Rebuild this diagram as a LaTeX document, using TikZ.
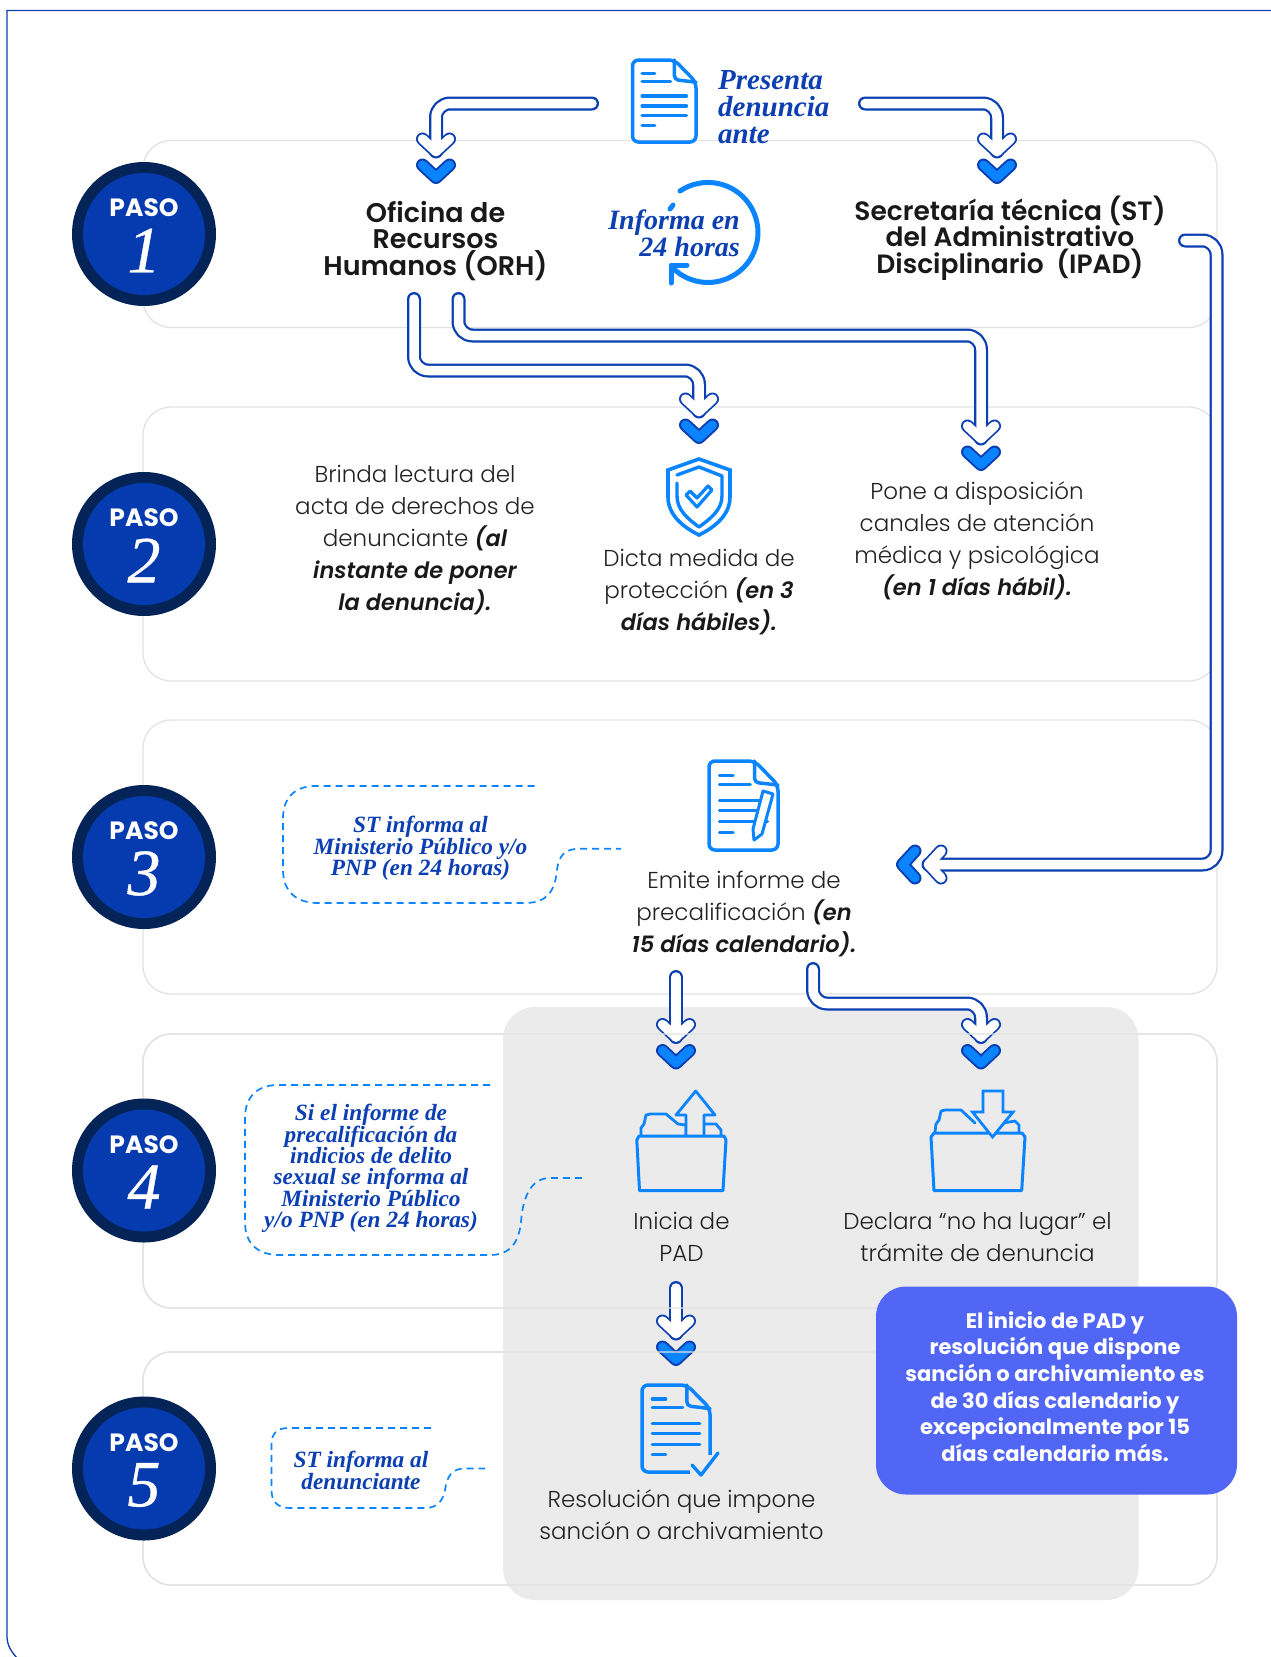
\documentclass[tikz,border=0pt]{standalone}
\usepackage{fontspec}
\setmainfont{Poppins}
\newfontfamily\serifbi{Liberation Serif}
\newfontfamily\numf[ItalicFeatures={FakeBold=0.6}]{Liberation Serif}
\newfontfamily\lightf{Poppins Light}
\newfontfamily\semif{Poppins SemiBold}
\newfontfamily\medf[ItalicFont={Poppins SemiBold Italic}]{Poppins SemiBold}
\usetikzlibrary{calc}
\definecolor{fblue}{HTML}{0B3FB2}
\definecolor{cyanb}{HTML}{0A84FF}
\definecolor{circout}{HTML}{042357}
\definecolor{circin}{HTML}{063BB0}
\definecolor{graybox}{HTML}{EBEBEB}
\definecolor{notebox}{HTML}{5266F5}
\definecolor{panelline}{HTML}{E2E2E2}
\definecolor{bodytxt}{HTML}{222222}
\newcommand{\emx}[1]{{\medf\itshape\fontsize{22.5}{32}\selectfont\color{black!90}#1}}
\tikzset{
 panel/.style={draw=panelline,line width=1.3pt,rounded corners=28pt},
 flowout/.style={draw=fblue,line width=14pt,line cap=round,line join=round,rounded corners=14pt},
 flowin/.style={draw=white,line width=9.5pt,line cap=round,line join=round,rounded corners=14pt},
 chevout/.style={draw=fblue,line width=13pt,line cap=round,line join=round},
 chevin/.style={draw=cyanb,line width=9pt,line cap=round,line join=round},
 heading/.style={font=\semif\fontsize{27}{26.6}\selectfont,text=black!90,align=center,inner sep=0pt},
 bodyt/.style={font=\lightf\fontsize{23}{32}\selectfont,text=bodytxt,align=center,inner sep=0pt},
 calltxt/.style={font=\serifbi\bfseries\itshape\fontsize{23.3}{21.4}\selectfont,text=fblue,align=center,inner sep=0pt},
 bigital/.style={font=\serifbi\bfseries\itshape\fontsize{29}{26.7}\selectfont,text=fblue,inner sep=0pt},
 dashcall/.style={draw=cyanb,line width=1.7pt,dash pattern=on 7pt off 5pt},
 icon/.style={draw=cyanb,line width=3.5pt,line cap=round,line join=round},
 pasot/.style={font=\bfseries\fontsize{25}{25}\selectfont,text=white,inner sep=0pt},
 numt/.style={font=\numf\itshape\fontsize{66}{66}\selectfont,text=white,inner sep=0pt},
}
\newcommand{\chevline}[4]{\begin{scope}[shift={(#1)},rotate=#2]\draw[#3](-13.5,{#4-12.5})--(0,{#4})--(13.5,{#4-12.5});\end{scope}}
\newcommand{\flow}[3]{%
 \draw[flowout] #1;\chevline{#2}{#3}{chevout}{0}%
 \draw[flowin] #1;\chevline{#2}{#3}{flowin,rounded corners=0pt}{0}%
 \chevline{#2}{#3}{chevout}{26}\chevline{#2}{#3}{chevin}{26}}
\newcommand{\paso}[3]{%
 \node[circle,fill=circout,minimum size=144pt,inner sep=0pt] (c#1) at (144,#2) {};
 \node[circle,fill=circin,minimum size=122pt,inner sep=0pt] (ci#1) at (144,#2) {};
 \node[pasot] (pt#1) at (144,#2-26) {PASO};
 \node[numt] (pn#1) at (144,#2+16.5) {#3};}
\newcommand{\docicon}[4]{\begin{scope}[shift={(#1,#2)},x=#3pt/100,y=-#4pt/100]
 \draw[icon,rounded corners=6pt,fill=none] (66,0)--(0,0)--(0,100)--(100,100)--(100,27)--cycle;
 \draw[icon,rounded corners=4pt] (66,0)--(66,24)--(100,27);
 \foreach \a/\b/\c in {15/35/16,15/60/26,15/85/44,15/85/56,15/85/68,15/35/80}{\draw[icon,line width=3.2pt] (\a,\c)--(\b,\c);}
\end{scope}}
\begin{document}
\begin{tikzpicture}[x=1pt,y=-1pt]
\useasboundingbox (0,0) rectangle (1271,1657);
\fill[white] (0,0) rectangle (1271,1657);
% outer frame
\draw[fblue,line width=1.3pt] (1280,10.5)--(7,10.5)--(7,1636) .. controls (7,1645) and (11,1652) .. (19,1660);
% panels 1-3
\draw[panel] (143,140.5) rectangle (1217,327.5);
\draw[panel] (143,407) rectangle (1217,681);
\draw[panel] (143,720) rectangle (1217,994);
% panels 4,5 fill
\draw[panel] (143,1034) rectangle (1217,1308);
\draw[panel] (143,1352) rectangle (1217,1585);
% gray box
\fill[graybox,rounded corners=32pt] (503,1007) rectangle (1138.5,1600);
% coordinates for connector ends
\coordinate (srcL) at (592,103.5);
\coordinate (tipORH) at (436,151.5);
\coordinate (srcR) at (865,103.5);
\coordinate (tipST) at (997,151.5);
\coordinate (orhA) at (414,299);
\coordinate (tipDicta) at (699,411.5);
\coordinate (orhB) at (458.5,299);
\coordinate (tipPone) at (981,438.5);
\coordinate (stOut) at (1185,240.5);
\coordinate (tipEmite) at (928.5,864.5);
\coordinate (emA) at (676,977);
\coordinate (tipInicia) at (676,1037);
\coordinate (emB) at (813,969);
\coordinate (tipDeclara) at (981,1037);
\coordinate (inOut) at (676,1288);
\coordinate (tipRes) at (676,1333.5);
% arrows
\flow{(srcL)--(tipORH|-srcL)--(tipORH)}{tipORH}{0}
\flow{(srcR)--(tipST|-srcR)--(tipST)}{tipST}{0}
\flow{(orhA)--(orhA|-0,370.5)--(tipDicta|-0,370.5)--(tipDicta)}{tipDicta}{0}
\flow{(orhB)--(orhB|-0,335.5)--(tipPone|-0,335.5)--(tipPone)}{tipPone}{0}
\flow{(stOut)--(1216.5,240.5)--(1216.5,864.5)--(tipEmite)}{tipEmite}{-90}
\flow{(emA)--(tipInicia)}{tipInicia}{0}
\flow{(emB)--(emB|-0,1003.5)--(tipDeclara|-0,1003.5)--(tipDeclara)}{tipDeclara}{0}
\flow{(inOut)--(tipRes)}{tipRes}{0}
% panels 4,5 lines on top
\draw[panel] (143,1034) rectangle (1217,1308);
\draw[panel] (143,1352) rectangle (1217,1585);
% note box
\node[fill=notebox,rounded corners=30pt,minimum width=361pt,minimum height=208pt,inner sep=0pt] (note) at (1056.5,1390.5) {};
\node[font=\bfseries\fontsize{21}{26.6}\selectfont,text=white,align=center,inner sep=0pt] (notet) at (1055,1386.5)
 {El inicio de PAD y\\resolución que dispone\\sanción o archivamiento es\\de 30 días calendario y\\excepcionalmente por 15\\días calendario más.};
% paso circles
\paso{1}{234}{1}
\paso{2}{544}{2}
\paso{3}{857}{3}
\paso{4}{1170.5}{4}
\paso{5}{1468.5}{5}
% texts
\node[bigital,align=left,anchor=west] (pres) at (718,107) {Presenta\\denuncia\\ante};
\node[heading] (orh) at (435.5,241) {Oficina de\\Recursos\\Humanos (ORH)};
\node[heading,font=\semif\fontsize{26.5}{26.6}\selectfont] (st) at (1010,238) {Secretaría técnica (ST)\\del Administrativo\\Disciplinario\ \ (IPAD)};
\node[font=\serifbi\bfseries\itshape\fontsize{28}{26.7}\selectfont,text=fblue,align=right,anchor=east,inner sep=0pt] (inf) at (740,233.5) {Informa en\\24 horas};
\node[bodyt] (t21) at (415,540.5) {Brinda lectura del\\acta de derechos de\\denunciante \emx{(al}\\\emx{instante de poner}\\\emx{la denuncia).}};
\node[bodyt] (t22) at (699,592) {Dicta medida de\\protección \emx{(en 3}\\\emx{días hábiles).}};
\node[bodyt] (t23) at (977,540.5) {Pone a disposición\\canales de atención\\médica y psicológica\\\emx{(en 1 días hábil).}};
\node[bodyt] (t3) at (744,914) {Emite informe de\\precalificación \emx{(en}\\\emx{15 días calendario).}};
\node[bodyt] (t41) at (681.5,1237) {Inicia de\\PAD};
\node[bodyt] (t42) at (977.5,1237) {Declara “no ha lugar” el\\trámite de denuncia};
\node[bodyt] (t5) at (681.5,1515) {Resolución que impone\\sanción o archivamiento};
\node[calltxt] (c3) at (420.5,848.5) {ST informa al\\Ministerio Público y/o\\PNP (en 24 horas)};
\node[calltxt] (c4) at (371,1168.5) {Si el informe de\\precalificación da\\indicios de delito\\sexual se informa al\\Ministerio Público\\y/o PNP (en 24 horas)};
\node[calltxt] (c5) at (361,1470.5) {ST informa al\\denunciante};
% dashed callouts
\coordinate (d3) at (621,848.7);
\coordinate (d4) at (582,1178);
\coordinate (d5) at (485,1468.5);
\draw[dashcall] (534.5,786)--(315,786) .. controls (295,786) and (283,798) .. (283,818)--(283,870) .. controls (283,892) and (297,903) .. (318,903)--(525,903) .. controls (548,903) and (555,890) .. (557,870) .. controls (559,855) and (565,848.7) .. (580,848.7)--(d3);
\draw[dashcall] (490,1085)--(278,1085) .. controls (256,1085) and (245,1098) .. (245,1118)--(245,1222) .. controls (245,1244) and (258,1255) .. (280,1255)--(490,1255) .. controls (512,1255) and (519,1240) .. (521,1222) .. controls (523,1195) and (532,1178) .. (550,1178)--(d4);
\draw[dashcall] (431,1428)--(288,1428) .. controls (277,1428) and (271.5,1434) .. (271.5,1444)--(271.5,1490) .. controls (271.5,1502) and (278,1508) .. (290,1508)--(425,1508) .. controls (438,1508) and (443,1500) .. (445,1490) .. controls (447,1476) and (452,1468.5) .. (465,1468.5)--(d5);
% icons
\docicon{632.5}{60}{63.5}{82}
\docicon{709}{761}{69}{89}
\docicon{642}{1385}{68}{87}
% pencil on emite doc
\draw[icon,fill=white,line width=3pt] (763,791)--(773,794)--(762,834)--(754,840)--(753,829)--cycle;
% check on resolution doc
\fill[graybox] (690,1455) rectangle (722,1482);
\draw[icon,line width=3.4pt] (692,1465)--(701,1475)--(718,1453);
% cycle icon
\draw[cyanb,line width=5pt,line cap=round] (680,191) arc[start angle=-124,end angle=134,radius=50];
\draw[cyanb,line width=5pt,line cap=round] (673,205)--(670,209);
\draw[cyanb,line width=5pt,line cap=round,line join=round] (687,265)--(671,265)--(671,283);
% shield
\draw[icon,line width=3.6pt,line join=miter] (699,459)--(730,470)--(730,497) .. controls (730,515) and (715,527) .. (699,535) .. controls (683,527) and (668,515) .. (668,497)--(668,470)--cycle;
\draw[icon,line width=3.4pt] (677,483)--(677,496) .. controls (677,510) and (688,519) .. (699,527) .. controls (710,519) and (722,510) .. (722,496)--(722,476)--(699,467)--(677,475);
\draw[icon,line width=3.2pt] (686,495)--(697,507)--(712,490)--(708,486)--(697,498)--(690,491)--cycle;
% upload folder
\draw[icon,line width=2.8pt,fill=graybox] (641,1136)--(641,1128) -- (644,1124)--(646,1115)--(650,1114)--(666,1114)--(678,1124)--(686,1125)--(686,1136);
\draw[icon,line width=2.8pt] (704,1124)--(716,1124)--(721,1130)--(721,1136);
\draw[icon,line width=2.8pt,fill=graybox] (686,1136)--(686,1115)--(676,1115)--(695.7,1091)--(715,1115)--(704,1115)--(704,1136);
\draw[icon,line width=3pt] (639,1136)--(724,1136)--(726,1140)--(723,1190.5)--(639.5,1190.5)--(636.8,1140)--cycle;
% download folder
\draw[icon,line width=2.8pt] (935,1132)--(936,1124)--(939,1120)--(941,1111)--(945,1110)--(961,1110)--(975,1123);
\draw[icon,line width=2.8pt] (1003,1123)--(1015,1121)--(1019,1125)--(1019,1132);
\draw[icon,line width=3pt,fill=graybox] (934,1133)--(1022,1133)--(1025,1137)--(1021.7,1190.5)--(934,1190.5)--(931,1137)--cycle;
\draw[icon,line width=2.8pt,fill=graybox,line join=miter] (983,1091)--(1003,1091)--(1003,1112)--(1013,1112)--(992.5,1137)--(972.5,1112)--(983,1112)--cycle;
\end{tikzpicture}
\end{document}
